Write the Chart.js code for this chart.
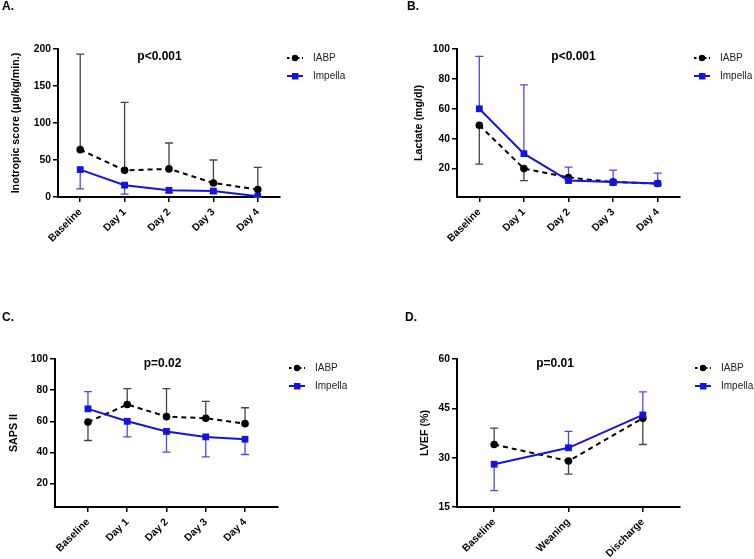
<!DOCTYPE html>
<html>
<head>
<meta charset="utf-8">
<script src="https://cdn.jsdelivr.net/npm/chart.js@4/dist/chart.umd.min.js"></script>
<style>
  html, body { margin: 0; padding: 0; background: #fff; }
  #wrap { position: relative; width: 754px; height: 559px; }
  canvas { position: absolute; }
</style>
</head>
<body>
<div id="wrap">
  <canvas id="panelA" width="377" height="280" style="left:0;top:0"></canvas>
  <canvas id="panelB" width="377" height="280" style="left:377px;top:0"></canvas>
  <canvas id="panelC" width="377" height="279" style="left:0;top:280px"></canvas>
  <canvas id="panelD" width="377" height="279" style="left:377px;top:280px"></canvas>
</div>
<script>
// ===== Data =====
const dayLabels = ['Baseline', 'Day 1', 'Day 2', 'Day 3', 'Day 4'];
const lvefLabels = ['Baseline', 'Weaning', 'Discharge'];

// A. Inotropic score (µg/kg/min.)
const inoIabp = [64, 36, 38, 19, 10];
const inoIabpErr = [193, 128, 73, 50, 40];     // end of the error bar
const inoImpella = [37, 16, 9, 8, 1];
const inoImpellaErr = [11, 4, 6, 5, 0];
const inoTicks = [0, 50, 100, 150, 200];

// B. Lactate (mg/dl)
const lacIabp = [49, 20, 14, 11, 10];
const lacIabpErr = [23, 12, 12, 9, 9];
const lacImpella = [60, 30, 12, 11, 10];
const lacImpellaErr = [95, 76, 21, 19, 17];
const lacTicks = [20, 40, 60, 80, 100];

// C. SAPS II
const sapsIabp = [59.5, 70.8, 63, 62, 58.5];
const sapsIabpErr = [47.7, 81, 81, 72.8, 68.7];
const sapsImpella = [68, 60, 53.5, 50, 48.5];
const sapsImpellaErr = [79, 50, 40.2, 37.2, 38.7];
const sapsTicks = [20, 40, 60, 80, 100];

// D. LVEF (%)
const lvefIabp = [34, 29, 42];
const lvefIabpErr = [39, 25, 34];
const lvefImpella = [28, 33, 43];
const lvefImpellaErr = [20, 38, 50];
const lvefTicks = [15, 30, 45, 60];

// ===== Styles =====
const FONT = "'Liberation Sans', Arial, sans-serif";
const BLUE = '#1414e0';
const BLUE_ERR = '#4a4af2';
const BLACK_ERR = '#444';

// Plugin: error bars, panel letter, p-value, legend
function decor(cfg) {
    return {
        id: 'decor',
        beforeDatasetsDraw(chart) {
            const ctx = chart.ctx;
            const xs = chart.scales.x, ys = chart.scales.y;
            const bars = [
                { means: cfg.iabp, ends: cfg.iabpErr, color: BLACK_ERR },
                { means: cfg.impella, ends: cfg.impellaErr, color: BLUE_ERR }
            ];
            ctx.save();
            ctx.lineWidth = 1.3;
            bars.forEach(b => {
                ctx.strokeStyle = b.color;
                b.ends.forEach((end, i) => {
                    const px = xs.getPixelForValue(i);
                    const y0 = ys.getPixelForValue(b.means[i]);
                    const y1 = ys.getPixelForValue(end);
                    ctx.beginPath();
                    ctx.moveTo(px, y0);
                    ctx.lineTo(px, y1);
                    ctx.moveTo(px - 4, y1);
                    ctx.lineTo(px + 4, y1);
                    ctx.stroke();
                });
            });
            ctx.restore();
        },
        afterDraw(chart) {
            const ctx = chart.ctx;
            ctx.save();
            ctx.fillStyle = '#000';
            ctx.textBaseline = 'middle';
            // panel letter
            ctx.font = 'bold 12px ' + FONT;
            ctx.textAlign = 'left';
            ctx.fillText(cfg.letter, cfg.letterPos[0], cfg.letterPos[1]);
            // p-value
            ctx.textAlign = 'center';
            ctx.fillText(cfg.pText, cfg.pPos[0], cfg.pPos[1]);
            // legend
            const lx = cfg.legendPos[0], ly = cfg.legendPos[1];
            // IABP: dashed line with dot
            ctx.strokeStyle = '#000';
            ctx.lineWidth = 2;
            ctx.setLineDash([2.5, 2.5]);
            ctx.beginPath();
            ctx.moveTo(lx, ly);
            ctx.lineTo(lx + 16, ly);
            ctx.stroke();
            ctx.setLineDash([]);
            ctx.beginPath();
            ctx.arc(lx + 8, ly, 3.2, 0, Math.PI * 2);
            ctx.fill();
            // Impella: solid line with square
            ctx.strokeStyle = BLUE;
            ctx.fillStyle = BLUE;
            ctx.beginPath();
            ctx.moveTo(lx, ly + 18);
            ctx.lineTo(lx + 16, ly + 18);
            ctx.stroke();
            ctx.fillRect(lx + 5, ly + 15, 6.5, 6.5);
            // labels
            ctx.fillStyle = '#222';
            ctx.font = '10px ' + FONT;
            ctx.textAlign = 'left';
            ctx.fillText('IABP', lx + 26, ly);
            ctx.fillText('Impella', lx + 26, ly + 18);
            ctx.restore();
        }
    };
}

function makePanel(id, cfg) {
    const canvas = document.getElementById(id);
    const W = canvas.width, H = canvas.height;
    const axisFont = { family: FONT, size: 10.3, weight: 'bold' };
    const gridOpts = { drawOnChartArea: false, drawTicks: true, tickLength: 5, color: '#000', lineWidth: 1.5, tickWidth: 1.5 };
    const borderOpts = { display: true, color: '#000', width: 2 };

    return new Chart(canvas, {
        type: 'line',
        data: {
            datasets: [
                {
                    label: 'Impella',
                    data: cfg.impella.map((v, i) => ({ x: i, y: v })),
                    borderColor: BLUE,
                    backgroundColor: BLUE,
                    borderWidth: 2,
                    pointStyle: 'rect',
                    pointRadius: 4.8,
                    pointBackgroundColor: BLUE,
                    pointBorderColor: BLUE,
                    pointBorderWidth: 0,
                    tension: 0,
                    order: 0
                },
                {
                    label: 'IABP',
                    data: cfg.iabp.map((v, i) => ({ x: i, y: v })),
                    borderColor: '#000',
                    backgroundColor: '#000',
                    borderWidth: 2,
                    borderDash: [5, 4],
                    pointStyle: 'circle',
                    pointRadius: 3.8,
                    pointBackgroundColor: '#000',
                    pointBorderColor: '#000',
                    pointBorderWidth: 0,
                    tension: 0,
                    order: 1
                }
            ]
        },
        options: {
            responsive: false,
            animation: false,
            events: [],
            layout: { padding: { left: 0, top: cfg.area.top, right: W - cfg.area.right, bottom: 0 } },
            plugins: { legend: { display: false }, tooltip: { enabled: false } },
            scales: {
                x: {
                    type: 'linear',
                    min: cfg.xMin,
                    max: cfg.xMax,
                    afterBuildTicks: a => { a.ticks = cfg.labels.map((l, i) => ({ value: i })); },
                    afterFit: a => { a.height = H - cfg.area.bottom; },
                    ticks: {
                        autoSkip: false, minRotation: 45, maxRotation: 45, padding: 4,
                        color: '#000', font: axisFont,
                        callback: v => cfg.labels[v]
                    },
                    grid: gridOpts,
                    border: borderOpts
                },
                y: {
                    min: cfg.yMin,
                    max: cfg.yMax,
                    afterBuildTicks: a => { a.ticks = cfg.yTicks.map(v => ({ value: v })); },
                    afterFit: a => { a.width = cfg.area.left; },
                    ticks: { padding: 2, color: '#000', font: axisFont },
                    title: {
                        display: true, text: cfg.yTitle, color: '#000',
                        font: { family: FONT, size: 10.7, weight: 'bold' },
                        padding: { top: cfg.titleX - 6.4, bottom: 0 }
                    },
                    grid: gridOpts,
                    border: borderOpts
                }
            }
        },
        plugins: [decor(cfg)]
    });
}

// ===== Build the four panels =====
makePanel('panelA', {
    labels: dayLabels, iabp: inoIabp, iabpErr: inoIabpErr, impella: inoImpella, impellaErr: inoImpellaErr,
    yTicks: inoTicks, yMin: 0, yMax: 200, xMin: -0.5, xMax: 4.5,
    yTitle: 'Inotropic score (μg/kg/min.)', titleX: 16.5,
    area: { left: 58, right: 280, top: 49, bottom: 197 },
    letter: 'A.', letterPos: [2, 7], pText: 'p<0.001', pPos: [159.5, 57], legendPos: [287, 58]
});

makePanel('panelB', {
    labels: dayLabels, iabp: lacIabp, iabpErr: lacIabpErr, impella: lacImpella, impellaErr: lacImpellaErr,
    yTicks: lacTicks, yMin: 1, yMax: 100, xMin: -0.5, xMax: 4.5,
    yTitle: 'Lactate (mg/dl)', titleX: 42,
    area: { left: 80, right: 303, top: 49, bottom: 197 },
    letter: 'B.', letterPos: [30, 7], pText: 'p<0.001', pPos: [196.5, 57], legendPos: [317, 58]
});

makePanel('panelC', {
    labels: dayLabels, iabp: sapsIabp, iabpErr: sapsIabpErr, impella: sapsImpella, impellaErr: sapsImpellaErr,
    yTicks: sapsTicks, yMin: 5, yMax: 100, xMin: -0.84, xMax: 4.84,
    yTitle: 'SAPS II', titleX: 14.5,
    area: { left: 55, right: 278, top: 79, bottom: 227 },
    letter: 'C.', letterPos: [2, 38], pText: 'p=0.02', pPos: [162.5, 84], legendPos: [289, 88]
});

makePanel('panelD', {
    labels: lvefLabels, iabp: lvefIabp, iabpErr: lvefIabpErr, impella: lvefImpella, impellaErr: lvefImpellaErr,
    yTicks: lvefTicks, yMin: 15, yMax: 60, xMin: -0.5, xMax: 2.5,
    yTitle: 'LVEF (%)', titleX: 48,
    area: { left: 80, right: 303, top: 79, bottom: 227 },
    letter: 'D.', letterPos: [28, 38], pText: 'p=0.01', pPos: [178, 84], legendPos: [318, 88]
});
</script>
</body>
</html>
